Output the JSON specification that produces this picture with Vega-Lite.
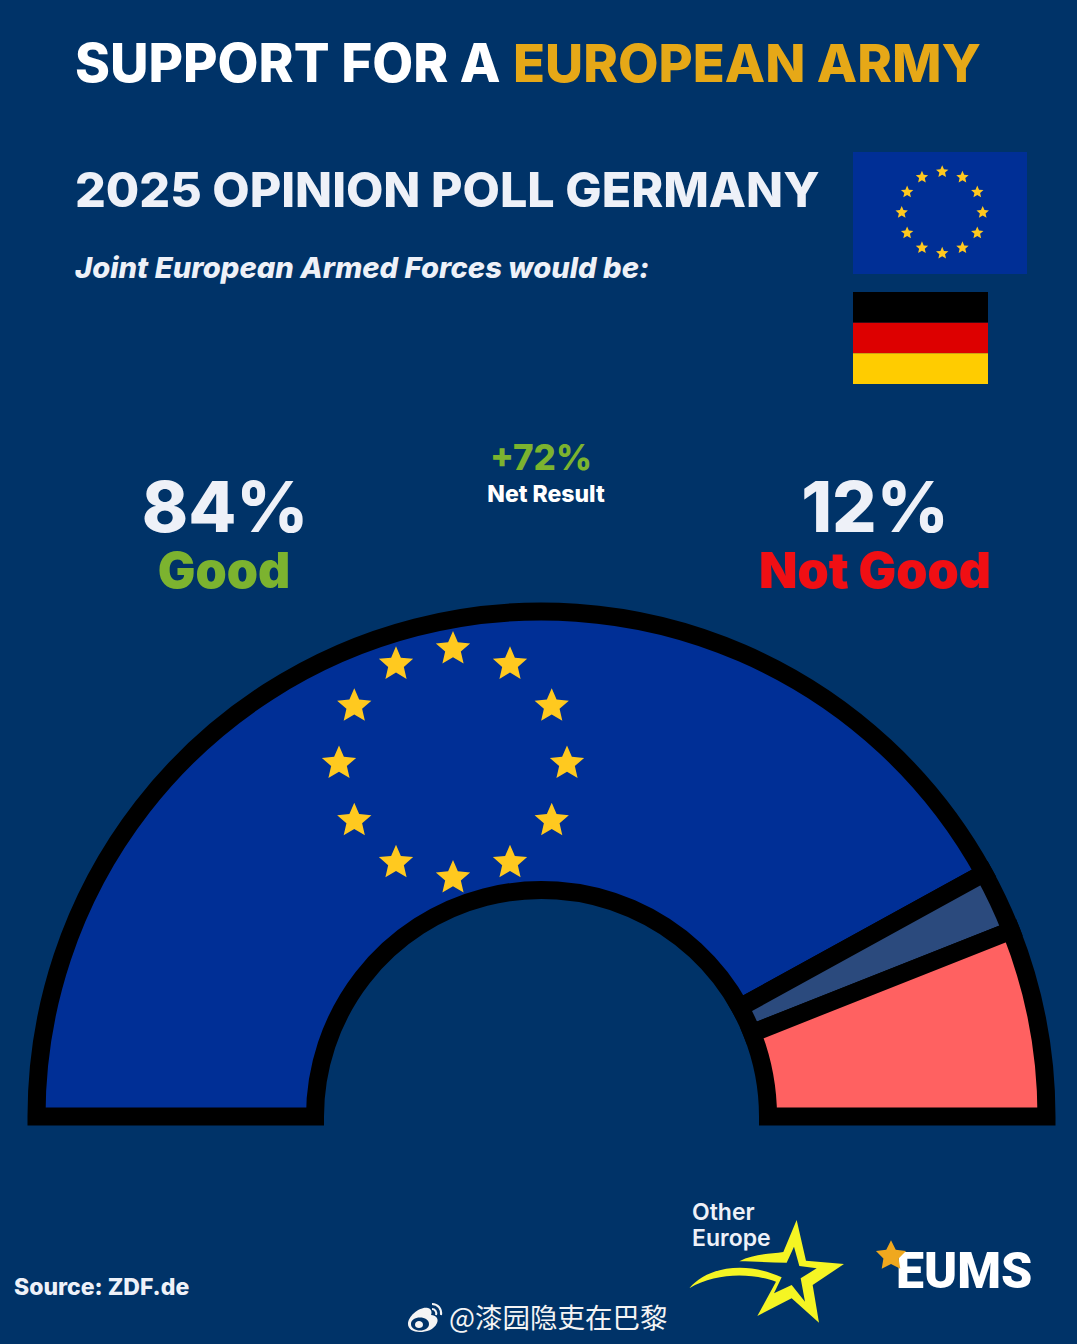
{
"$schema":"https://vega.github.io/schema/vega-lite/v6.json",
"width":1077,"height":1344,"padding":0,"autosize":{"type":"none"},
"background":"#003368",
"config":{"view":{"stroke":null},"axis":{"disable":true}},
"datasets":{
"ring":[{"sx":0,"sy":1},{"sx":0.5,"sy":0.866},{"sx":0.866,"sy":0.5},{"sx":1,"sy":0},{"sx":0.866,"sy":-0.5},{"sx":0.5,"sy":-0.866},{"sx":0,"sy":-1},{"sx":-0.5,"sy":-0.866},{"sx":-0.866,"sy":-0.5},{"sx":-1,"sy":0},{"sx":-0.866,"sy":0.5},{"sx":-0.5,"sy":0.866}],
"one":[{"item":"logo"}]
},
"resolve":{"scale":{"x":"independent","y":"independent","color":"independent"}},
"layer":[
{"data":{"values":[{"category":"Good","share":84,"rank":1},{"category":"Undecided","share":4,"rank":2},{"category":"Not Good","share":12,"rank":3}]},
"mark":{"type":"arc","radius":505,"radius2":226.5,"stroke":"#000000","strokeWidth":18,"strokeJoin":"miter"},
"encoding":{"x":{"value":541.5},"y":{"value":1116.5},
"theta":{"field":"share","type":"quantitative","stack":true,"scale":{"domain":[0,100],"range":[-1.5708,1.5708]}},
"order":{"field":"rank"},
"color":{"field":"category","type":"nominal","legend":null,"scale":{"domain":["Good","Undecided","Not Good"],"range":["#002F96","#2B4A7D","#FF6161"]}}}},
{"data":{"name":"ring"},"mark":{"type":"point","shape":"M0,-1L0.27,-0.37L0.951,-0.309L0.435,0.141L0.588,0.809L0,0.457L-0.588,0.809L-0.435,0.141L-0.951,-0.309L-0.27,-0.37Z","filled":true,"fill":"#FFC91F","opacity":1,"size":1300,"strokeWidth":0},
"encoding":{"x":{"field":"sx","type":"quantitative","axis":null,"scale":{"domain":[-1,1],"range":[339,567]}},"y":{"field":"sy","type":"quantitative","axis":null,"scale":{"domain":[-1,1],"range":[878,649]}}}},
{"data":{"name":"one"},"mark":{"type":"rect","fill":"#002F96"},"encoding":{"x":{"value":853},"x2":{"value":1027},"y":{"value":152},"y2":{"value":274}}},
{"data":{"name":"ring"},"mark":{"type":"point","shape":"M0,-1L0.27,-0.37L0.951,-0.309L0.435,0.141L0.588,0.809L0,0.457L-0.588,0.809L-0.435,0.141L-0.951,-0.309L-0.27,-0.37Z","filled":true,"fill":"#FFC91F","opacity":1,"size":170,"strokeWidth":0},
"encoding":{"x":{"field":"sx","type":"quantitative","axis":null,"scale":{"domain":[-1,1],"range":[901.7,982.7]}},"y":{"field":"sy","type":"quantitative","axis":null,"scale":{"domain":[-1,1],"range":[253.3,171.7]}}}},
{"data":{"values":[{"stripe":"Black"},{"stripe":"Red"},{"stripe":"Gold"}]},"mark":{"type":"rect"},
"encoding":{"x":{"value":853},"x2":{"value":988},
"y":{"field":"stripe","type":"nominal","axis":null,"sort":["Black","Red","Gold"],"scale":{"range":[292,384],"paddingInner":0,"paddingOuter":0}},
"color":{"field":"stripe","type":"nominal","legend":null,"scale":{"domain":["Black","Red","Gold"],"range":["#000000","#DD0000","#FFCC00"]}}}},
{"data":{"values":[{"label":"SUPPORT FOR A"}]},"mark":{"type":"text","font":"Inter","fontWeight":800,"fontSize":53,"align":"left","baseline":"alphabetic","fill":"#FFFFFF","x":75,"y":82},"encoding":{"text":{"field":"label"}}},
{"data":{"values":[{"label":"EUROPEAN ARMY"}]},"mark":{"type":"text","font":"Inter","fontWeight":800,"fontSize":52.5,"align":"left","baseline":"alphabetic","fill":"#E6A817","x":513,"y":82},"encoding":{"text":{"field":"label"}}},
{"data":{"values":[{"label":"2025 OPINION POLL GERMANY"}]},"mark":{"type":"text","font":"Inter","fontWeight":800,"fontSize":48.4,"align":"left","baseline":"alphabetic","fill":"#EEF1F8","x":75,"y":207},"encoding":{"text":{"field":"label"}}},
{"data":{"values":[{"label":"Joint European Armed Forces would be:"}]},"mark":{"type":"text","font":"Inter","fontWeight":800,"fontStyle":"italic","fontSize":29.2,"align":"left","baseline":"alphabetic","fill":"#EEF1F8","x":75,"y":278},"encoding":{"text":{"field":"label"}}},
{"data":{"values":[{"label":"84%"}]},"mark":{"type":"text","font":"Inter","fontWeight":800,"fontSize":70,"align":"center","baseline":"alphabetic","fill":"#EEF1F8","x":225,"y":532},"encoding":{"text":{"field":"label"}}},
{"data":{"values":[{"label":"12%"}]},"mark":{"type":"text","font":"Inter","fontWeight":800,"fontSize":70,"align":"center","baseline":"alphabetic","fill":"#EEF1F8","x":875,"y":532},"encoding":{"text":{"field":"label"}}},
{"data":{"values":[{"label":"Good"}]},"mark":{"type":"text","font":"Inter","fontWeight":900,"fontSize":50,"align":"center","baseline":"alphabetic","fill":"#7CB32F","x":224,"y":588},"encoding":{"text":{"field":"label"}}},
{"data":{"values":[{"label":"Not Good"}]},"mark":{"type":"text","font":"Inter","fontWeight":900,"fontSize":50,"align":"center","baseline":"alphabetic","fill":"#F00F14","x":875,"y":588},"encoding":{"text":{"field":"label"}}},
{"data":{"values":[{"label":"+72%"}]},"mark":{"type":"text","font":"Inter","fontWeight":800,"fontSize":35,"align":"center","baseline":"alphabetic","fill":"#7CB32F","x":541,"y":470},"encoding":{"text":{"field":"label"}}},
{"data":{"values":[{"label":"Net Result"}]},"mark":{"type":"text","font":"Inter","fontWeight":800,"fontSize":23,"align":"center","baseline":"alphabetic","fill":"#FFFFFF","x":546,"y":502},"encoding":{"text":{"field":"label"}}},
{"data":{"values":[{"label":"Source: ZDF.de"}]},"mark":{"type":"text","font":"Inter","fontWeight":800,"fontSize":23,"align":"left","baseline":"alphabetic","fill":"#EEF1F8","x":14,"y":1295},"encoding":{"text":{"field":"label"}}},
{"data":{"values":[{"label":"Other"}]},"mark":{"type":"text","font":"Inter","fontWeight":600,"fontSize":23,"align":"left","baseline":"alphabetic","fill":"#EEF1F8","x":692,"y":1220},"encoding":{"text":{"field":"label"}}},
{"data":{"values":[{"label":"Europe"}]},"mark":{"type":"text","font":"Inter","fontWeight":600,"fontSize":23,"align":"left","baseline":"alphabetic","fill":"#EEF1F8","x":692,"y":1246},"encoding":{"text":{"field":"label"}}},
{"data":{"name":"one"},"mark":{"type":"point","shape":"M380,90L408,212L522,222L428,285L447,398L365,325L262,378L318,275C250,250,140,245,58,295C110,230,230,212,335,262L312,310L365,285L405,335L392,265L440,235L388,228L372,170L350,218C300,218,250,214,208,214C250,192,300,192,340,186Z","filled":true,"fill":"#F5F523","opacity":1,"size":0.4444,"strokeWidth":0,"x":670,"y":1190},"encoding":{}},
{"data":{"values":[{"label":"EUMS"}]},"mark":{"type":"text","font":"Roboto","fontWeight":900,"fontSize":50,"align":"left","baseline":"alphabetic","fill":"#FFFFFF","x":896,"y":1288},"encoding":{"text":{"field":"label"}}},
{"data":{"name":"one"},"mark":{"type":"point","shape":"M0,-1L0.3,-0.4L0.951,-0.309L0.48,0.156L0.588,0.809L0,0.5L-0.588,0.809L-0.48,0.156L-0.951,-0.309L-0.3,-0.4Z","filled":true,"fill":"#F0A81E","opacity":1,"size":1000,"strokeWidth":0,"x":891,"y":1256},"encoding":{}},
{"data":{"name":"one"},"mark":{"type":"point","shape":"M2,22C2,14,14,4,22,6C26,7,26,11,25,13C30,13,33,17,31,21C28,28,20,30,14,30C7,30,2,27,2,22ZM5,22C5,26,9,28.5,14,28.5C19,28.5,23,26,23,22C23,18,19,15.5,14,15.5C9,15.5,5,18,5,22ZM9,23C9,20,11,19,13,19C15,19,17,20,17,23C17,25,15,26,13,26C11,26,9,25,9,23Z","filled":true,"fill":"#F4F4F4","opacity":1,"size":4,"strokeWidth":0,"x":406,"y":1302},"encoding":{}},
{"data":{"name":"one"},"mark":{"type":"point","shape":"M26,2C32,2,36,7,35,13M26,7C29,7,31,10,30,13","filled":false,"stroke":"#F4F4F4","opacity":1,"size":4,"strokeWidth":2,"x":406,"y":1302},"encoding":{}},
{"data":{"values":[{"label":"@漆园隐吏在巴黎"}]},"mark":{"type":"text","font":"Noto Sans CJK SC","fontWeight":400,"fontSize":27.5,"align":"left","baseline":"alphabetic","fill":"#F4F4F4","x":449,"y":1328},"encoding":{"text":{"field":"label"}}}
]
}
